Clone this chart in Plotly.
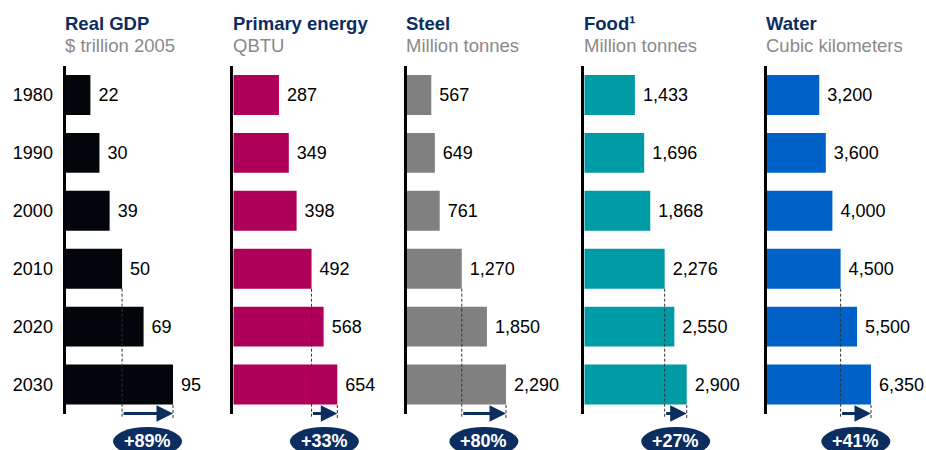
import plotly.graph_objects as go

# ---------------- data ----------------
years = ["1980", "1990", "2000", "2010", "2020", "2030"]
titles = ["Real GDP", "Primary energy", "Steel", "Food¹", "Water"]
units = ["$ trillion 2005", "QBTU", "Million tonnes", "Million tonnes", "Cubic kilometers"]
gdp = [22, 30, 39, 50, 69, 95]
energy = [287, 349, 398, 492, 568, 654]
steel = [567, 649, 761, 1270, 1850, 2290]
food = [1433, 1696, 1868, 2276, 2550, 2900]
water = [3200, 3600, 4000, 4500, 5500, 6350]
growth = ["+89%", "+33%", "+80%", "+27%", "+41%"]

series = [gdp, energy, steel, food, water]
colors = ["#02050a", "#ae0058", "#808080", "#009ca6", "#0062c8"]

# ---------------- layout geometry (pixels) ----------------
W, H = 926, 450
NAVY = "#0b2d5f"
GRAY = "#8a8a8a"
FONT = "Arial, 'Liberation Sans', sans-serif"
axis_px = [65.5, 233.3, 406.7, 584.3, 766.7]   # left axis line of each panel
maxlen_px = [107.5, 104.0, 99.3, 102.4, 104.3]  # pixel length of longest bar
panel_w = 150
y_top, y_bot = 66, 413.5


def py(p):
    return 1 - p / H


fig = go.Figure()
shapes = []
annotations = []

for i, vals in enumerate(series):
    n = "" if i == 0 else str(i + 1)
    xa, ya = "x" + n, "y" + n
    fig.add_trace(go.Bar(
        x=vals, y=years, orientation="h",
        marker=dict(color=colors[i], line=dict(width=0)),
        texttemplate="\u00a0%{x:,}", textposition="outside",
        textfont=dict(size=18, color="black", family=FONT),
        constraintext="none", cliponaxis=False,
        xaxis=xa, yaxis=ya, showlegend=False, hoverinfo="skip",
    ))
    a = axis_px[i]
    xrange_max = max(vals) * panel_w / maxlen_px[i]
    fig.update_layout(**{
        ("xaxis" + n): dict(domain=[a / W, (a + panel_w) / W], range=[0, xrange_max],
                             visible=False, anchor=ya, fixedrange=True),
        ("yaxis" + n): dict(domain=[py(y_bot), py(y_top)], type="category",
                             categoryorder="array", categoryarray=years,
                             range=[5.5, -0.5], anchor=xa,
                             showline=True, linecolor="black", linewidth=3,
                             ticks="", showgrid=False, zeroline=False,
                             showticklabels=(i == 0), ticklabelstandoff=6,
                             tickfont=dict(size=18, color="black", family=FONT)),
    })

    v2010, v2030 = vals[3], vals[5]
    mid = (v2010 + v2030) / 2
    dash = dict(color="#333333", width=1, dash="3px,2px")
    shapes.append(dict(type="line", xref=xa, yref="paper", x0=v2010, x1=v2010,
                       y0=py(288.7), y1=py(418.5), line=dash, layer="above"))
    shapes.append(dict(type="line", xref=xa, yref="paper", x0=v2030, x1=v2030,
                       y0=py(405), y1=py(418.5), line=dash, layer="above"))
    # badge
    shapes.append(dict(type="circle", xref=xa, yref="paper", xsizemode="pixel",
                       xanchor=mid, x0=-34.5, x1=34.5, y0=py(456), y1=py(427),
                       fillcolor=NAVY, line=dict(width=0), layer="above"))
    annotations.append(dict(xref=xa, yref="paper", x=mid, y=py(440.5),
                            text="<b>" + growth[i] + "</b>", showarrow=False,
                            font=dict(size=18, color="white", family=FONT),
                            xanchor="center", yanchor="middle"))
    # arrow 2010 -> 2030
    annotations.append(dict(xref=xa, yref="paper", x=v2030, y=py(413.5),
                            axref=xa, ax=v2010, ayref="pixel", ay=0,
                            text="", showarrow=True, arrowhead=2, arrowsize=1.1,
                            arrowwidth=3, arrowcolor=NAVY, standoff=0))
    # titles
    annotations.append(dict(xref="paper", yref="paper", x=(a - 2.5) / W, y=py(23),
                            xanchor="left", yanchor="middle", showarrow=False,
                            text="<b>" + titles[i] + "</b>",
                            font=dict(size=18.5, color=NAVY, family=FONT)))
    annotations.append(dict(xref="paper", yref="paper", x=(a - 2.5) / W, y=py(45.5),
                            xanchor="left", yanchor="middle", showarrow=False,
                            text=units[i],
                            font=dict(size=18.5, color=GRAY, family=FONT)))

fig.update_layout(
    width=W, height=H, autosize=False,
    margin=dict(l=0, r=0, t=0, b=0, pad=0),
    paper_bgcolor="white", plot_bgcolor="rgba(0,0,0,0)",
    bargap=0.31, font=dict(family=FONT, color="black"),
    shapes=shapes, annotations=annotations,
)

fig.write_html("out.html", config={"displayModeBar": False},
               post_script="document.body.style.margin='0';document.body.style.overflow='hidden';")
